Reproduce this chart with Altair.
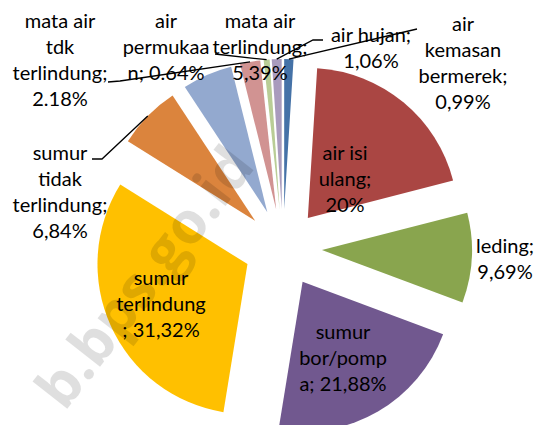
import altair as alt
import numpy as np
import pandas as pd

# ---------------- data ----------------
categories = [
    "air kemasan bermerek", "air isi ulang", "leding", "sumur bor/pompa",
    "sumur terlindung", "sumur tidak terlindung", "mata air terlindung",
    "mata air tdk terlindung", "air permukaan", "air hujan",
]
values = [0.99, 20, 9.69, 21.88, 31.32, 6.84, 5.39, 2.18, 0.64, 1.06]
label_texts = [
    "air\nkemasan\nbermerek;\n0,99%",
    "air isi\nulang;\n20%",
    "leding;\n9,69%",
    "sumur\nbor/pomp\na; 21,88%",
    "sumur\nterlindung\n; 31,32%",
    "sumur\ntidak\nterlindung;\n6,84%",
    "mata air\nterlindung;\n5,39%",
    "mata air\ntdk\nterlindung;\n2.18%",
    "air\npermukaa\nn; 0.64%",
    "air hujan;\n1,06%",
]
colors = ["#4572A7", "#AA4643", "#89A54E", "#71588F", "#FFC000",
          "#DB843D", "#93A9CF", "#D19392", "#B9CD96", "#A99BBD"]

# ---------------- layout ----------------
W, H = 528, 417
CX, CY = 275, 240          # pie centre inside the plot area
R = 150                    # slice radius
EXPLODE = 39               # explosion distance
FONT = "Lato"
FS = 20
LH = 26
# label block centres, relative to the pie centre (pixels)
label_pos = [(180, -184), (62, -68), (222, 12), (60, 111), (-122, 57),
             (-223, -55), (-23, -200), (-223, -187), (-117, -200), (88, -199)]
# leader line anchors near the labels (relative to centre), per slice index
leader_anchor = {
    7: [(-175, -166), (-163, -167)],
    8: [(-68, -194)],
    9: [(40, -208), (30, -208)],
    0: [(134, -219)],
    5: [(-191, -89), (-181, -89)],
}

df = pd.DataFrame({
    "category": categories,
    "value": values,
    "idx": list(range(len(values))),
    "label": label_texts,
    "lx": [p[0] for p in label_pos],
    "ly": [p[1] for p in label_pos],
})

xs = alt.Scale(domain=[-CX, W - CX], nice=False, zero=False)
ys = alt.Scale(domain=[-CY, H - CY], reverse=True, nice=False, zero=False)
ts = alt.Scale(domain=[0, 1], range=[0, 2 * np.pi])
cs = alt.Scale(domain=categories, range=colors)

base = alt.Chart(df)

arcs = (
    base.transform_window(cum="sum(value)", sort=[alt.SortField("idx")])
    .transform_joinaggregate(total="sum(value)")
    .transform_calculate(
        f0="(datum.cum - datum.value) / datum.total",
        f1="datum.cum / datum.total",
    )
    .transform_calculate(
        ox=f"{EXPLODE} * sin(PI * (datum.f0 + datum.f1))",
        oy=f"-{EXPLODE} * cos(PI * (datum.f0 + datum.f1))",
    )
    .mark_arc(outerRadius=R)
    .encode(
        x=alt.X("ox:Q", scale=xs, axis=None),
        y=alt.Y("oy:Q", scale=ys, axis=None),
        theta=alt.Theta("f0:Q", scale=ts),
        theta2="f1:Q",
        color=alt.Color("category:N", scale=cs, legend=None),
    )
)

# leader lines: from the label anchor to the slice's outer edge at its mid angle
vals = np.array(values, dtype=float)
cum = np.cumsum(vals)
mid = (cum - vals / 2) / vals.sum() * 2 * np.pi
rows = []
for i, pts in leader_anchor.items():
    k = 0
    for (px, py) in pts:
        rows.append({"line": i, "k": k, "px": px, "py": py})
        k += 1
    rows.append({"line": i, "k": k,
                 "px": (R + EXPLODE) * np.sin(mid[i]),
                 "py": -(R + EXPLODE) * np.cos(mid[i])})
lines_df = pd.DataFrame(rows)

leaders = (
    alt.Chart(lines_df)
    .mark_line(color="black", strokeWidth=1.3)
    .encode(
        x=alt.X("px:Q", scale=xs, axis=None),
        y=alt.Y("py:Q", scale=ys, axis=None),
        detail="line:N",
        order="k:Q",
    )
)

labels = (
    base.transform_calculate(
        ly0=f"datum.ly - (split(datum.label, '\\n').length - 1) * {LH} / 2"
    )
    .mark_text(
        lineBreak="\n", font=FONT, fontSize=FS, lineHeight=LH,
        align="center", baseline="middle", color="black",
    )
    .encode(
        x=alt.X("lx:Q", scale=xs, axis=None),
        y=alt.Y("ly0:Q", scale=ys, axis=None),
        text="label:N",
    )
)

watermark = alt.Chart(pd.DataFrame({"t": ["b.bps.go.id"], "x": [-136], "y": [31]})).mark_text(
    font="Open Sans", fontWeight="bold", fontSize=58, angle=308,
    color="black", opacity=0.12, align="center", baseline="middle",
).encode(
    x=alt.X("x:Q", scale=xs, axis=None),
    y=alt.Y("y:Q", scale=ys, axis=None),
    text="t:N",
)

chart = (
    alt.layer(arcs, leaders, labels, watermark)
    .properties(width=W, height=H, padding=0, autosize=alt.AutoSizeParams(type="none"),
                background="white")
    .configure_view(stroke=None)
)

chart.save("out.html", embed_options={"renderer": "svg", "actions": False})
